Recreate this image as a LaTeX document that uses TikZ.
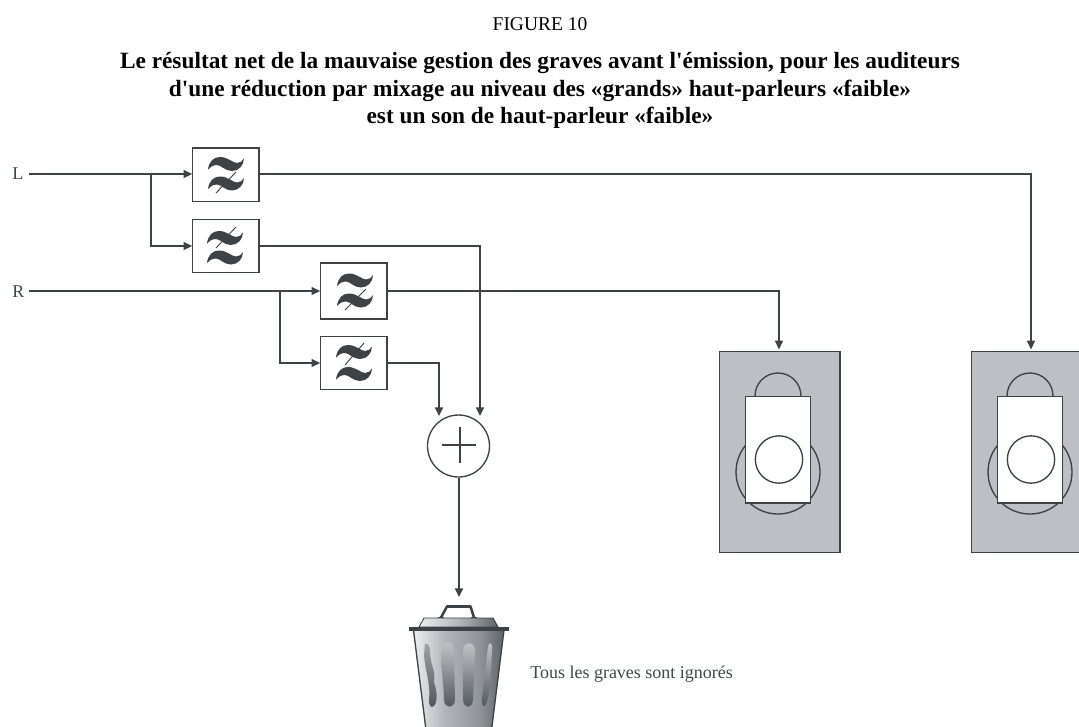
\documentclass[tikz,border=0pt]{standalone}
\usepackage{fontspec}
\setmainfont{Liberation Serif}[Ligatures=TeXOff]
\usetikzlibrary{arrows.meta}
\definecolor{ink}{HTML}{3C4245}
\definecolor{spk}{HTML}{BEBFC4}
\definecolor{txt}{HTML}{3F474C}
\definecolor{canA}{HTML}{ECEDF0}
\definecolor{canB}{HTML}{B4B6BB}
\definecolor{canC}{HTML}{8E9297}
\definecolor{canD}{HTML}{5E6368}
\definecolor{strT}{HTML}{C4C5C9}
\definecolor{strM}{HTML}{9FA2A7}
\definecolor{strB}{HTML}{4F565A}
\pgfdeclarehorizontalshading{canshade}{100bp}{color(0bp)=(canA); color(25bp)=(canA); color(42bp)=(canB); color(62bp)=(canC); color(75bp)=(canD); color(100bp)=(canD)}
\pgfdeclarehorizontalshading{lidshade}{100bp}{color(0bp)=(canA); color(25bp)=(canA); color(50bp)=(canB); color(75bp)=(canD); color(100bp)=(canD)}
\tikzset{
  wire/.style={draw=ink,line width=1.05pt},
  arr/.style={wire,-{Triangle[length=6.5pt,width=6pt]}},
  filterbox/.style={draw=ink,fill=white,line width=1pt,minimum width=50pt,minimum height=40pt,inner sep=0pt,outer sep=0pt,rectangle},
  slash/.style={draw=ink,line width=0.7pt},
  lab/.style={inner sep=0pt,text=txt,font=\fontsize{13.5pt}{16pt}\selectfont},
  titleline/.style={inner sep=0pt,text=black,anchor=base,font=\fontsize{17.5pt}{20pt}\selectfont\bfseries},
  spkline/.style={draw=ink,line width=1pt},
}
\newcommand{\wavy}[2]{%
  \fill[ink,shift={(#1,#2)}]
    (-18,5.5) .. controls (-17,-3) and (-12,-7) .. (-6,-7)
    .. controls (2,-7) and (7,-1) .. (11,-1)
    .. controls (14,-1) and (17,-3) .. (18,-5.5)
    .. controls (18,1) and (13,7) .. (6,7)
    .. controls (-1,7) and (-5,1) .. (-9,1)
    .. controls (-13,1) and (-16,3) .. (-18,5.5) -- cycle;
}
\newcommand{\speaker}[2]{%
  \begin{scope}[xshift=#2*0.75pt]
  \node[draw=ink,fill=spk,line width=1pt,rectangle,minimum width=90.5pt,minimum height=151pt,inner sep=0pt,outer sep=0pt] (#1) at (779.5,452) {};
  \draw[spkline] (778,472) circle[radius=42];
  \draw[spkline] (755,396) arc[start angle=180,end angle=360,radius=23];
  \node[draw=ink,fill=white,line width=1pt,rectangle,minimum width=49pt,minimum height=80pt,inner sep=0pt] (#1cab) at (778,449.5) {};
  \node[draw=ink,fill=white,line width=1pt,circle,minimum size=35.5pt,inner sep=0pt] (#1drv) at (779,459.5) {};
  \end{scope}
}
\begin{document}
\begin{tikzpicture}[x=0.75pt,y=-0.75pt]
\useasboundingbox (0,0) rectangle (1079,726);
\clip (0,0) rectangle (1079,726);
\fill[white] (0,0) rectangle (1079,726);
\node[lab,anchor=base,text=black,font=\fontsize{14.6pt}{17pt}\selectfont] (fig) at (540,30) {FIGURE 10};
\node[titleline] (t1) at (540,68) {Le résultat net de la mauvaise gestion des graves avant l'émission, pour les auditeurs};
\node[titleline] (t2) at (540,96.5) {d'une réduction par mixage au niveau des «grands» haut-parleurs «faible»};
\node[titleline] (t3) at (540,123.5) {est un son de haut-parleur «faible»};
\node[lab,anchor=base west] (L) at (12,179) {L};
\node[lab,anchor=base west] (R) at (12,297) {R};
\coordinate (Lend) at (29,174);
\coordinate (Rend) at (29,291);

\node[filterbox] (f1) at (225.5,174.5) {};
\node[filterbox] (f2) at (225.5,246) {};
\node[filterbox,minimum height=42pt] (f3) at (353.5,291) {};
\node[filterbox] (f4) at (353.5,363) {};
\wavy{226}{164}\wavy{226}{183.5}
\draw[slash] (216,193) -- (236,172);
\wavy{225}{238}\wavy{225}{257.5}
\draw[slash] (216,248) -- (236,227);
\wavy{355}{280.5}\wavy{355}{300.5}
\draw[slash] (345,310) -- (366,289);
\wavy{354}{352}\wavy{354}{374}
\draw[slash] (345,365) -- (364,343);

\node[circle,draw=ink,fill=white,line width=1pt,minimum size=46.5pt,inner sep=0pt,outer sep=0pt] (sum) at (458.5,446) {};
\draw[draw=ink,line width=2pt] (460,427) -- (460,463) (442,445) -- (476,445);

\speaker{s1}{0}
\speaker{s2}{252}

\draw[arr] (Lend) -- (Lend -| f1.west);
\coordinate (jL) at (151,174);
\draw[arr] (jL) |- (f2.west);
\draw[arr] (Rend) -- (f3.west);
\coordinate (jR) at (280,291);
\draw[arr] (jR) |- (f4.west);
\coordinate (s1in) at (779,351);
\coordinate (s2in) at (1031,351);
\draw[arr,shorten >=1.2pt] (Lend -| f1.east) -| (s2in);
\draw[arr,shorten >=1.2pt] (f3.east) -| (s1in);
\coordinate (sumin1) at (480,416);
\coordinate (sumin2) at (439,416);
\draw[arr] (f2.east) -| (sumin1);
\draw[arr] (f4.east) -| (sumin2);
\coordinate (binfoot) at (459,477.5);
\coordinate (bintop) at (459,597);
\draw[arr] (binfoot) -- (bintop);

% bin
\draw[draw=ink,line width=1.9pt,fill=none,line join=round] (441,617.5) -- (447,606.5) -- (470.5,606.5) -- (474,617.5);
\draw[ink,line width=1.2pt] (438,617.5) -- (444,617.5) (471,617.5) -- (477,617.5);
\shade[shading=lidshade] (424,618) -- (493,618) -- (498,627) -- (419,627) -- cycle;
\draw[draw=ink,line width=0.7pt] (424,618) -- (493,618) -- (498,627) -- (419,627) -- cycle;
\shade[shading=canshade] (413.5,630) -- (504,630) -- (491.5,730) -- (426,730) -- cycle;
\draw[draw=ink,line width=1pt] (413.5,630) -- (426,730) (504,630) -- (491.5,730);
\fill[ink] (409,626.5) rectangle (509,631);
\shade[top color=strM,bottom color=strB] (425,644) .. controls (428,642) and (431,648) .. (430,654) .. controls (431,666) and (436,672) .. (434,682) .. controls (437,690) and (437,698) .. (436,702) .. controls (434,709) and (429,709) .. (429,700) .. controls (431,685) and (425,670) .. (424,655) -- cycle;
\shade[top color=strT,bottom color=strB] (441,650) .. controls (442,640) and (453,640) .. (454,650) -- (455,700) .. controls (454,709) and (445,709) .. (444,700) .. controls (444,685) and (441,670) .. (441,650) -- cycle;
\shade[top color=strT,bottom color=strB] (463,650) .. controls (464,641) and (474,641) .. (475,650) -- (473,700) .. controls (472,709) and (464,709) .. (463,700) -- cycle;
\shade[top color=strT,bottom color=strB] (488,646) .. controls (490,641) and (493,643) .. (492,650) .. controls (491,670) and (490,690) .. (487,702) .. controls (485,708) and (481,708) .. (482,698) .. controls (484,680) and (486,665) .. (488,646) -- cycle;
\node[lab,anchor=base west] (note) at (530,678) {Tous les graves sont ignorés};
\end{tikzpicture}
\end{document}
